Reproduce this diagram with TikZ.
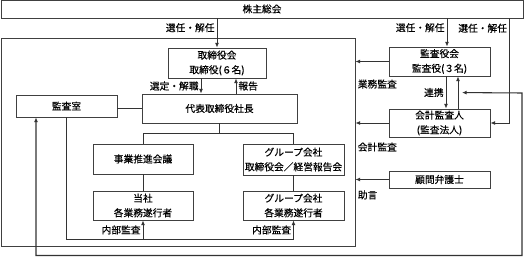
\documentclass[tikz,border=0pt]{standalone}
\usepackage{fontspec}
\setmainfont{Noto Sans CJK JP}[FakeBold=0.3]
\usetikzlibrary{arrows.meta,positioning,shadows}

\begin{document}
\begin{tikzpicture}[
  x=0.75pt, y=-0.75pt,
  box/.style={draw=black!75, fill=white, line width=0.65pt, align=center, inner sep=0pt,
    font=\fontsize{7.3}{11}\selectfont,
    general shadow={shadow xshift=0.7pt, shadow yshift=-0.7pt, fill=black!45}},
  frame/.style={draw=black!75, line width=0.65pt},
  wh/.style 2 args={minimum width=#1*0.75pt, minimum height=#2*0.75pt},
  lbl/.style={font=\fontsize{7.3}{9}\selectfont, inner sep=1.5pt},
  ln/.style={draw=black!80, line width=0.65pt},
  arr/.style={ln, -{Latex[length=3.5pt,width=3pt]}},
  dblarr/.style={ln, line width=0.8pt, {Latex[length=3.5pt,width=3pt]}-{Latex[length=3.5pt,width=3pt]}}
]
  \useasboundingbox (0,0) rectangle (524,257);

  % top bar and company frame
  \node[frame, wh={522}{16}, font=\fontsize{7.3}{9}\selectfont] (top) at (262,9) {株主総会};
  \node[frame, wh={354}{208}] (co) at (178,142) {};

  % company side
  \node[box, wh={98}{30}] (kaisha) at (217,63) {取締役会\\取締役(６名)};
  \node[box, wh={155}{29}] (daihyo) at (219.5,108.5) {代表取締役社長};
  \node[box, wh={101}{22}] (shitsu) at (66.5,106) {監査室};
  \node[box, wh={100}{30}] (jigyo) at (143,159) {事業推進会議};
  \node[box, wh={101}{31}] (gkai) at (293.5,159.5) {グループ会社\\取締役会／経営報告会};
  \node[box, wh={100}{29}] (tosha) at (143,205.5) {当社\\各業務遂行者};
  \node[box, wh={101}{29}] (gexec) at (293.5,205.5) {グループ会社\\各業務遂行者};

  % audit side
  \node[box, wh={101}{29}] (kansa) at (439.5,61.5) {監査役会\\監査役(３名)};
  \node[box, wh={101}{28}] (kaikei) at (439.5,123) {会計監査人\\(監査法人)};
  \node[box, wh={101}{17}] (komon) at (439.5,179.5) {顧問弁護士};

  % appointment from shareholders
  \draw[arr] (kaisha.north |- top.south) -- node[lbl, left, pos=0.32]{選任・解任} (kaisha.north);
  \coordinate (ks) at ([xshift=7.5*0.75pt]kansa.north);
  \draw[arr] (ks |- top.south) -- node[lbl, left, pos=0.33]{選任・解任} (ks);
  \coordinate (kk) at ([xshift=19*0.75pt]kaikei.east);
  \draw[arr] (kk |- top.south) -- node[lbl, left, pos=0.094]{選任・解任} (kk) -- (kaikei.east);

  % board and president
  \coordinate (sd) at ([xshift=-16*0.75pt]kaisha.south);
  \draw[arr] (sd) -- node[lbl, left]{選定・解職} (sd |- daihyo.north);
  \coordinate (hk) at ([xshift=16.5*0.75pt]daihyo.north);
  \draw[arr] (hk) -- node[lbl, right]{報告} (hk |- kaisha.south);
  \draw[ln] (daihyo.west) -- (daihyo.west -| shitsu.east);

  % tree below the president
  \draw[ln] (daihyo.south) -- ++(0,10) coordinate (br) -| (jigyo.north);
  \draw[ln] (br) -| (gkai.north);
  \draw[ln] (jigyo) -- (tosha);
  \draw[ln] (gkai) -- (gexec);

  % internal audit
  \draw[ln] (shitsu.south) -- ++(0,122) coordinate (nb) -- (nb -| gexec.south);
  \draw[arr] (nb -| tosha.south) -- node[lbl, left]{内部監査} (tosha.south);
  \draw[arr] (nb -| gexec.south) -- node[lbl, left]{内部監査} (gexec.south);

  % audits of the company
  \draw[arr] (kansa.west) -- (kansa.west -| co.east) node[lbl, anchor=west, yshift=-16.9pt]{業務監査};
  \draw[arr] (kaikei.west) -- (kaikei.west -| co.east) node[lbl, anchor=west, yshift=-18pt]{会計監査};
  \draw[arr] (komon.west) -- (komon.west -| co.east) node[lbl, anchor=west, yshift=-11.6pt]{助言};

  % cooperation
  \coordinate (rd) at ([xshift=6.5*0.75pt]kansa.south);
  \coordinate (ru) at ([xshift=18.5*0.75pt]kaikei.north);
  \draw[arr] (rd) -- node[lbl, left]{連携} (rd |- kaikei.north);
  \draw[arr] (ru) -- (ru |- kansa.south);
  \coordinate (lpa) at ([xshift=-30.5*0.75pt]shitsu.south);
  \coordinate (lpb) at ([xshift=3pt,yshift=12pt]ru);
  \draw[dblarr] (lpa) |- (522,255.5) -- (522,93) -- (lpb);
\end{tikzpicture}
\end{document}
